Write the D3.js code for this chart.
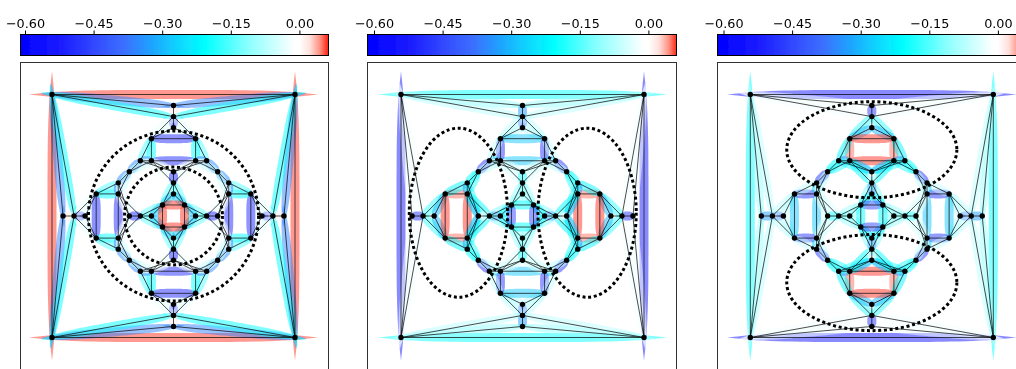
<!DOCTYPE html>
<html lang="en">
<head>
  <meta charset="utf-8">
  <script src="https://d3js.org/d3.v7.min.js"></script>
  <style>
    html, body { margin: 0; padding: 0; background: #fff; overflow: hidden; }
    svg { display: block; }
    text { font-family: "DejaVu Sans", sans-serif; font-size: 12.8px; fill: #000; }
  </style>
</head>
<body>
<script>
  // colour bar
  var cmapValues = [-0.611, -0.524, -0.437, -0.382, -0.327, -0.272, -0.207, -0.108, -0.01, 0, 0.023, 0.045, 0.063];
  var cmapColors = ["#0000ff", "#1a1aff", "#3550ff", "#3b70ff", "#20a0ff", "#10d0ff", "#00ffff", "#90ffff", "#ffffff", "#ffffff", "#ffe0dc", "#ff9080", "#ff2010"];
  var tickValues = [-0.6, -0.45, -0.3, -0.15, 0];

  // one arm of the truss, the rest comes from mirroring and swapping x/y
  var armEdges = [
    [[-11,-11],[11,-11]], [[-11,-11],[0,-10]], [[-11,-11],[0,-9]], [[0,-10],[0,-9]], [[0,-9],[0,-8]],
    [[0,-9],[-2,-7]], [[0,-8],[-2,-7]], [[-2,-7],[2,-7]], [[-2,-5],[2,-5]], [[-2,-7],[-2,-5]],
    [[-3,-5],[-2,-7]], [[-3,-5],[-2,-5]], [[-3,-5],[-4,-4]], [[-2,-5],[-4,-4]], [[-3,-5],[0,-4]],
    [[-2,-5],[0,-4]], [[-2,-5],[0,-3]], [[0,-4],[0,-3]], [[0,-3],[0,-2]], [[0,-3],[-1,-1]],
    [[0,-2],[-1,-1]], [[-1,-1],[1,-1]]
  ];

  // edge stresses, same order as armEdges. Top = arm as listed, side = swapped arm
  var stressTop1  = [0.06, -0.36, -0.2, 0.015, -0.52, -0.03, -0.03, -0.5, -0.5, -0.2, -0.15, -0.36, -0.35, -0.06, -0.02, -0.02, -0.02, -0.5, -0.06, -0.14, -0.28, 0.06];
  var stressSide1 = [0.06, -0.36, -0.2, 0.015, -0.52, -0.03, -0.03, -0.5, -0.5, -0.2, -0.15, -0.36, -0.35, -0.06, -0.02, -0.02, -0.02, -0.5, -0.06, -0.14, -0.28, 0.06];
  var stressTop2  = [-0.2, -0.1, -0.07, -0.33, -0.42, -0.07, -0.07, -0.28, -0.28, -0.48, -0.06, -0.28, -0.48, -0.07, -0.05, -0.04, -0.04, -0.18, -0.12, -0.1, -0.1, -0.2];
  var stressSide2 = [-0.52, -0.02, -0.02, -0.48, -0.01, -0.17, -0.3, 0.06, 0.06, 0.05, -0.22, -0.35, -0.2, -0.18, -0.17, -0.3, -0.2, -0.01, -0.46, -0.12, -0.22, -0.45];
  var stressTop3  = [-0.52, -0.02, -0.02, -0.48, -0.01, -0.17, -0.3, 0.06, 0.06, 0.05, -0.22, -0.35, -0.2, -0.18, -0.17, -0.3, -0.2, -0.01, -0.46, -0.12, -0.22, -0.45];
  var stressSide3 = [-0.2, -0.1, -0.07, -0.33, -0.42, -0.07, -0.07, -0.28, -0.28, -0.48, -0.06, -0.28, -0.48, -0.07, -0.05, -0.04, -0.04, -0.18, -0.12, -0.1, -0.1, -0.2];

  // dotted level sets: cx, cy, rx, ry in mesh units
  var ellipses1 = [[0, 0, 7.7, 7.7], [0, 0, 4.43, 4.43]];
  var ellipses2 = [[-5.8, -0.3, 4.45, 7.65], [5.85, -0.3, 4.45, 7.65]];
  var ellipses3 = [[0, -6, 7.7, 4.35], [0, 6.03, 7.7, 4.35]];

  var panels = [
    {left: 20.5, right: 328.5, center: 173.5, tick0: 25, top: stressTop1, side: stressSide1, ellipses: ellipses1},
    {left: 367.5, right: 676.5, center: 522.5, tick0: 374, top: stressTop2, side: stressSide2, ellipses: ellipses2},
    {left: 717.5, right: 1026.5, center: 871.8, tick0: 723.5, top: stressTop3, side: stressSide3, ellipses: ellipses3}
  ];

  var width = 1016, height = 369;
  var svg = d3.select("body").append("svg").attr("width", width).attr("height", height);
  var defs = svg.append("defs");

  // the reference is a resampled raster, a small blur gets closer to it
  defs.append("filter").attr("id", "soft")
    .attr("filterUnits", "userSpaceOnUse")
    .attr("x", 0).attr("y", 0).attr("width", width).attr("height", height)
    .append("feGaussianBlur").attr("stdDeviation", 0.45);

  var color = d3.scaleLinear().domain(cmapValues).range(cmapColors).interpolate(d3.interpolateRgb).clamp(true);

  var bandLine = d3.line().curve(d3.curveLinearClosed);

  // blunt lens around an edge, runs a bit past both nodes
  function lens(p, q, w) {
    var dx = q[0] - p[0], dy = q[1] - p[1];
    var L = Math.sqrt(dx * dx + dy * dy);
    var ux = dx / L, uy = dy / L;
    var half = L / 2 + 0.095 * L;
    var mx = (p[0] + q[0]) / 2, my = (p[1] + q[1]) / 2;
    var steps = d3.range(-1, 1.0001, 0.05);
    function pt(s, side) {
      var off = side * w * (1 - Math.pow(Math.abs(s), 4));
      return [mx + ux * half * s - uy * off, my + uy * half * s + ux * off];
    }
    var upper = steps.map(function(s) { return pt(s, 1); });
    var lower = steps.slice().reverse().map(function(s) { return pt(s, -1); });
    return bandLine(upper.concat(lower));
  }

  // all mirrored copies of the arm with their stress
  function buildEdges(top, side) {
    var seen = {}, out = [];
    function add(a, b, v) {
      var ka = a.join(","), kb = b.join(",");
      var key = ka < kb ? ka + "|" + kb : kb + "|" + ka;
      if (seen[key]) return;
      seen[key] = true;
      out.push({a: a, b: b, v: v});
    }
    armEdges.forEach(function(e, i) {
      [1, -1].forEach(function(sx) {
        [1, -1].forEach(function(sy) {
          add([e[0][0] * sx, e[0][1] * sy], [e[1][0] * sx, e[1][1] * sy], top[i]);
          add([e[0][1] * sx, e[0][0] * sy], [e[1][1] * sx, e[1][0] * sy], side[i]);
        });
      });
    });
    return out;
  }

  panels.forEach(function(panel, pi) {
    var g = svg.append("g").attr("filter", "url(#soft)");
    var x = d3.scaleLinear().domain([-11, 11]).range([panel.center - 121.5, panel.center + 121.5]);
    var y = d3.scaleLinear().domain([-11, 11]).range([216 - 121.5, 216 + 121.5]);
    var edges = buildEdges(panel.top, panel.side);

    // colour bar
    var barScale = d3.scaleLinear().domain([-0.6, 0]).range([panel.tick0, panel.tick0 + 274.4]);
    var grad = defs.append("linearGradient").attr("id", "bar" + pi)
      .attr("gradientUnits", "userSpaceOnUse")
      .attr("x1", barScale(cmapValues[0])).attr("x2", barScale(cmapValues[cmapValues.length - 1]))
      .attr("y1", 0).attr("y2", 0);
    cmapValues.forEach(function(v, i) {
      grad.append("stop")
        .attr("offset", (v - cmapValues[0]) / (cmapValues[cmapValues.length - 1] - cmapValues[0]))
        .attr("stop-color", cmapColors[i]);
    });
    g.append("rect").attr("x", panel.left).attr("y", 34.5)
      .attr("width", panel.right - panel.left).attr("height", 21)
      .attr("fill", "url(#bar" + pi + ")").attr("stroke", "#000").attr("stroke-width", 1);

    var axis = d3.axisTop(barScale).tickValues(tickValues).tickSize(4).tickPadding(3)
      .tickFormat(function(d) { return d3.format(".2f")(d).replace("-", "\u2212"); });
    var axisG = g.append("g").attr("transform", "translate(0,34.5)").call(axis);
    axisG.select(".domain").remove();
    axisG.selectAll("text").style("font-family", "'DejaVu Sans', sans-serif").style("font-size", "12.8px");

    // frame
    g.append("rect").attr("x", panel.left).attr("y", 62.5)
      .attr("width", panel.right - panel.left).attr("height", 309)
      .attr("fill", "none").attr("stroke", "#333").attr("stroke-width", 1);

    // stress bands
    g.selectAll("path.band").data(edges).enter().append("path").attr("class", "band")
      .attr("d", function(d) {
        return lens([x(d.a[0]), y(d.a[1])], [x(d.b[0]), y(d.b[1])], 4.5);
      })
      .attr("fill", function(d) { return color(d.v); })
      .attr("fill-opacity", 0.5);

    // dotted curves
    g.selectAll("ellipse").data(panel.ellipses).enter().append("ellipse")
      .attr("cx", function(d) { return x(d[0]); })
      .attr("cy", function(d) { return y(d[1]); })
      .attr("rx", function(d) { return x(d[2]) - x(0); })
      .attr("ry", function(d) { return y(d[3]) - y(0); })
      .attr("fill", "none").attr("stroke", "#000").attr("stroke-width", 3)
      .attr("stroke-dasharray", "3,2.7");

    // mesh lines
    g.selectAll("line.mesh").data(edges).enter().append("line").attr("class", "mesh")
      .attr("x1", function(d) { return x(d.a[0]); })
      .attr("y1", function(d) { return y(d.a[1]); })
      .attr("x2", function(d) { return x(d.b[0]); })
      .attr("y2", function(d) { return y(d.b[1]); })
      .attr("stroke", "#000").attr("stroke-opacity", 0.7).attr("stroke-width", 1);

    // nodes
    var nodes = {};
    edges.forEach(function(d) { nodes[d.a.join(",")] = d.a; nodes[d.b.join(",")] = d.b; });
    g.selectAll("circle").data(Object.values(nodes)).enter().append("circle")
      .attr("cx", function(d) { return x(d[0]); })
      .attr("cy", function(d) { return y(d[1]); })
      .attr("r", 2.7).attr("fill", "#000");
  });
</script>
</body>
</html>
